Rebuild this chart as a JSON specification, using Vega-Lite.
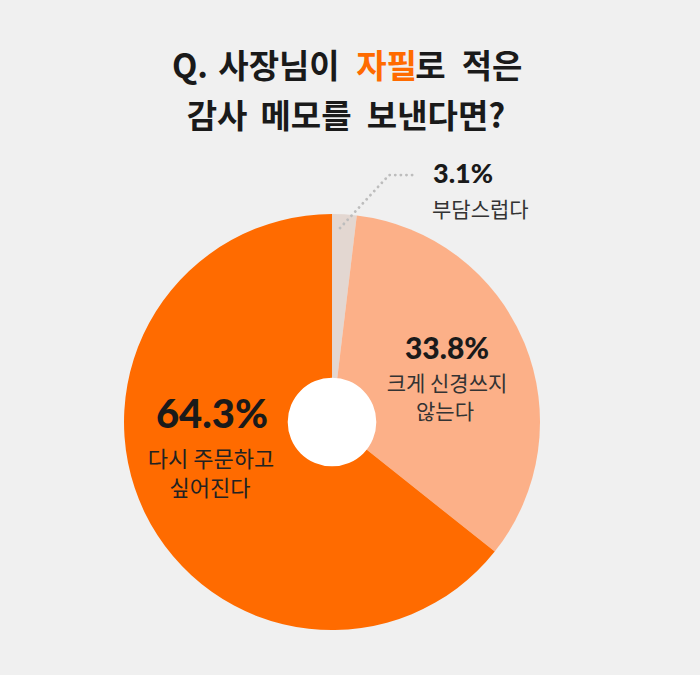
{
  "$schema": "https://vega.github.io/schema/vega-lite/v6.json",
  "width": 700,
  "height": 675,
  "autosize": {"type": "fit", "contains": "padding"},
  "padding": 0,
  "background": "#f0f0f0",
  "config": {"view": {"stroke": null}, "axis": {"disable": true}},
  "datasets": {
    "slices": [
      {"answer": "부담스럽다", "pct": 1.9, "o": 1},
      {"answer": "크게 신경쓰지 않는다", "pct": 33.8, "o": 2},
      {"answer": "다시 주문하고 싶어진다", "pct": 64.3, "o": 3}
    ],
    "leader": [
      {"x": 3.85, "y": 93.27, "o": 1},
      {"x": 27.4, "y": 118.75, "o": 2},
      {"x": 40.38, "y": 118.75, "o": 3}
    ],
    "labels": [
      {"id": "t1", "text": "Q.", "x": -68.27, "y": 170.19},
      {"id": "t1", "text": "사장님이", "x": -25.48, "y": 170.19},
      {"id": "t2", "text": "자필", "x": 26.2, "y": 170.19},
      {"id": "t1", "text": "로", "x": 47.36, "y": 170.19},
      {"id": "t1", "text": "적은", "x": 76.92, "y": 170.19},
      {"id": "t1", "text": "감사", "x": -55.29, "y": 146.15},
      {"id": "t1", "text": "메모를", "x": -12.5, "y": 146.15},
      {"id": "t1", "text": "보낸다면?", "x": 50.0, "y": 146.15},
      {"id": "p64", "text": "64.3%", "x": -57.69, "y": 2.88},
      {"id": "l64", "text": "다시 주문하고", "x": -58.17, "y": -18.27},
      {"id": "l64", "text": "싶어진다", "x": -58.65, "y": -32.21},
      {"id": "p33", "text": "33.8%", "x": 55.29, "y": 34.62},
      {"id": "l33", "text": "크게 신경쓰지", "x": 55.29, "y": 17.79},
      {"id": "l33", "text": "않는다", "x": 54.33, "y": 4.33},
      {"id": "p3", "text": "3.1%", "x": 48.56, "y": 118.75},
      {"id": "l3", "text": "부담스럽다", "x": 48.08, "y": 101.44}
    ]
  },
  "layer": [
    {
      "data": {"name": "slices"},
      "mark": {"type": "arc", "outerRadius": 208},
      "encoding": {
        "x": {"datum": 0, "type": "quantitative", "scale": {"domain": [-159.6, 176.9], "nice": false, "zero": false}},
        "y": {"datum": 0, "type": "quantitative", "scale": {"domain": [-121.6, 202.9], "nice": false, "zero": false}},
        "theta": {"field": "pct", "type": "quantitative", "stack": true},
        "order": {"field": "o", "type": "quantitative"},
        "color": {"field": "answer", "type": "nominal", "legend": null,
          "scale": {"domain": ["부담스럽다", "크게 신경쓰지 않는다", "다시 주문하고 싶어진다"], "range": ["#e3d7d1", "#fcb088", "#ff6b00"]}}
      }
    },
    {
      "data": {"values": [{"c": "center"}]},
      "mark": {"type": "point", "shape": "circle", "filled": true, "size": 7850, "color": "#ffffff", "opacity": 1},
      "encoding": {
        "x": {"datum": 0, "type": "quantitative"},
        "y": {"datum": 0, "type": "quantitative"}
      }
    },
    {
      "data": {"name": "leader"},
      "mark": {"type": "line", "color": "#bdbdbd", "strokeWidth": 2.8, "strokeDash": [0.1, 5.5], "strokeCap": "round"},
      "encoding": {
        "x": {"field": "x", "type": "quantitative"},
        "y": {"field": "y", "type": "quantitative"},
        "order": {"field": "o", "type": "quantitative"}
      }
    },
    {
      "data": {"name": "labels"},
      "transform": [{"filter": "datum.id === 't1'"}],
      "mark": {"type": "text", "font": "Noto Sans CJK KR", "fontWeight": "bold", "fontSize": 33, "color": "#1a1a1a", "align": "center", "baseline": "middle"},
      "encoding": {"x": {"field": "x", "type": "quantitative"}, "y": {"field": "y", "type": "quantitative"}, "text": {"field": "text"}}
    },
    {
      "data": {"name": "labels"},
      "transform": [{"filter": "datum.id === 't2'"}],
      "mark": {"type": "text", "font": "Noto Sans CJK KR", "fontWeight": "bold", "fontSize": 33, "color": "#ff6b00", "align": "center", "baseline": "middle"},
      "encoding": {"x": {"field": "x", "type": "quantitative"}, "y": {"field": "y", "type": "quantitative"}, "text": {"field": "text"}}
    },
    {
      "data": {"name": "labels"},
      "transform": [{"filter": "datum.id === 'p64'"}],
      "mark": {"type": "text", "font": "Lato", "fontWeight": 900, "fontSize": 40, "color": "#1a1a1a", "align": "center", "baseline": "middle"},
      "encoding": {"x": {"field": "x", "type": "quantitative"}, "y": {"field": "y", "type": "quantitative"}, "text": {"field": "text"}}
    },
    {
      "data": {"name": "labels"},
      "transform": [{"filter": "datum.id === 'p33'"}],
      "mark": {"type": "text", "font": "Lato", "fontWeight": 900, "fontSize": 30, "color": "#1a1a1a", "align": "center", "baseline": "middle"},
      "encoding": {"x": {"field": "x", "type": "quantitative"}, "y": {"field": "y", "type": "quantitative"}, "text": {"field": "text"}}
    },
    {
      "data": {"name": "labels"},
      "transform": [{"filter": "datum.id === 'p3'"}],
      "mark": {"type": "text", "font": "Lato", "fontWeight": 900, "fontSize": 27, "color": "#1a1a1a", "align": "left", "baseline": "middle"},
      "encoding": {"x": {"field": "x", "type": "quantitative"}, "y": {"field": "y", "type": "quantitative"}, "text": {"field": "text"}}
    },
    {
      "data": {"name": "labels"},
      "transform": [{"filter": "datum.id === 'l64'"}],
      "mark": {"type": "text", "font": "Noto Sans CJK KR", "fontSize": 22, "color": "#222222", "align": "center", "baseline": "middle"},
      "encoding": {"x": {"field": "x", "type": "quantitative"}, "y": {"field": "y", "type": "quantitative"}, "text": {"field": "text"}}
    },
    {
      "data": {"name": "labels"},
      "transform": [{"filter": "datum.id === 'l33'"}],
      "mark": {"type": "text", "font": "Noto Sans CJK KR", "fontSize": 21, "color": "#333333", "align": "center", "baseline": "middle"},
      "encoding": {"x": {"field": "x", "type": "quantitative"}, "y": {"field": "y", "type": "quantitative"}, "text": {"field": "text"}}
    },
    {
      "data": {"name": "labels"},
      "transform": [{"filter": "datum.id === 'l3'"}],
      "mark": {"type": "text", "font": "Noto Sans CJK KR", "fontSize": 21, "color": "#333333", "align": "left", "baseline": "middle"},
      "encoding": {"x": {"field": "x", "type": "quantitative"}, "y": {"field": "y", "type": "quantitative"}, "text": {"field": "text"}}
    }
  ]
}
